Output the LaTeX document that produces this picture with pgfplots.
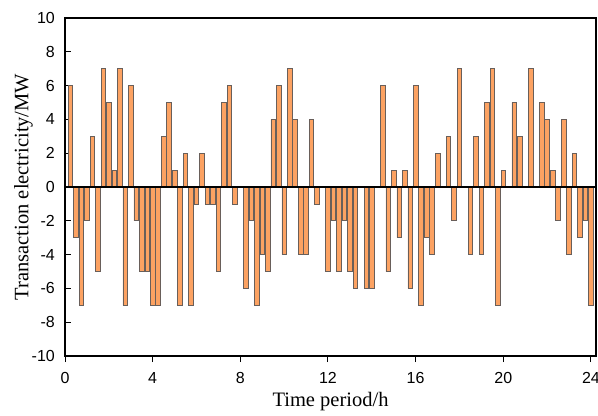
\documentclass[border=0pt]{standalone}
\usepackage{fontspec}
\setmainfont{Liberation Serif}
\newfontfamily\arialfont{Liberation Sans}
\usepackage{pgfplots}
\pgfplotsset{compat=1.18}
\definecolor{barfill}{RGB}{252,162,98}
\definecolor{baredge}{RGB}{105,95,90}
\begin{document}
\begin{tikzpicture}
\begin{axis}[
  scale only axis,
  width=531bp, height=338bp,
  xmin=0, xmax=24.23, ymin=-10, ymax=10,
  xtick={0,4,8,12,16,20,24},
  ytick={-10,-8,-6,-4,-2,0,2,4,6,8,10},
  xtick pos=bottom, ytick pos=left,
  tick align=inside,
  major tick length=6bp,
  tick style={black, line width=1bp},
  axis line style={black, line width=1.3bp},
  /pgf/number format/assume math mode=true,
  ticklabel style={font=\arialfont\fontsize{16bp}{19bp}\selectfont, inner sep=0pt},
  yticklabel style={anchor=east, xshift=-10bp},
  xticklabel style={anchor=north, yshift=-10bp},
  xlabel={Time period/h},
  ylabel={Transaction electricity/MW},
  label style={font=\fontsize{20.5bp}{24bp}\selectfont},
  xlabel style={at={(axis description cs:0.5,-0.15)}, anchor=base},
  ylabel style={at={(axis description cs:-0.0782,0.5)}, anchor=center},
  ybar, bar width=0.21,
  clip=false,
]
\addplot[fill=barfill, draw=baredge, line width=0.7bp] coordinates {
(0.25,6) (0.5,-3) (0.75,-7) (1.0,-2) (1.25,3) (1.5,-5) (1.75,7) (2.0,5)
(2.25,1) (2.5,7) (2.75,-7) (3.0,6) (3.25,-2) (3.5,-5) (3.75,-5) (4.0,-7)
(4.25,-7) (4.5,3) (4.75,5) (5.0,1) (5.25,-7) (5.5,2) (5.75,-7) (6.0,-1)
(6.25,2) (6.5,-1) (6.75,-1) (7.0,-5) (7.25,5) (7.5,6) (7.75,-1)
(8.25,-6) (8.5,-2) (8.75,-7) (9.0,-4) (9.25,-5) (9.5,4) (9.75,6) (10.0,-4)
(10.25,7) (10.5,4) (10.75,-4) (11.0,-4) (11.25,4) (11.5,-1)
(12.0,-5) (12.25,-2) (12.5,-5) (12.75,-2) (13.0,-5) (13.25,-6)
(13.75,-6) (14.0,-6) (14.5,6) (14.75,-5) (15.0,1) (15.25,-3) (15.5,1)
(15.75,-6) (16.0,6) (16.25,-7) (16.5,-3) (16.75,-4) (17.0,2)
(17.5,3) (17.75,-2) (18.0,7) (18.5,-4) (18.75,3) (19.0,-4) (19.25,5)
(19.5,7) (19.75,-7) (20.0,1) (20.5,5) (20.75,3) (21.25,7)
(21.75,5) (22.0,4) (22.25,1) (22.5,-2) (22.75,4) (23.0,-4) (23.25,2)
(23.5,-3) (23.75,-2) (24.0,-7)
};
\draw[black, line width=1.3bp] (axis cs:0,0) -- (axis cs:24.23,0);
\coordinate (sw) at (rel axis cs:0,0);
\coordinate (ne) at (rel axis cs:1,1);
\end{axis}
\pgfresetboundingbox
\path[use as bounding box] ([shift={(-65bp,-60bp)}]sw) rectangle ([shift={(2bp,18bp)}]ne);
\end{tikzpicture}
\end{document}
